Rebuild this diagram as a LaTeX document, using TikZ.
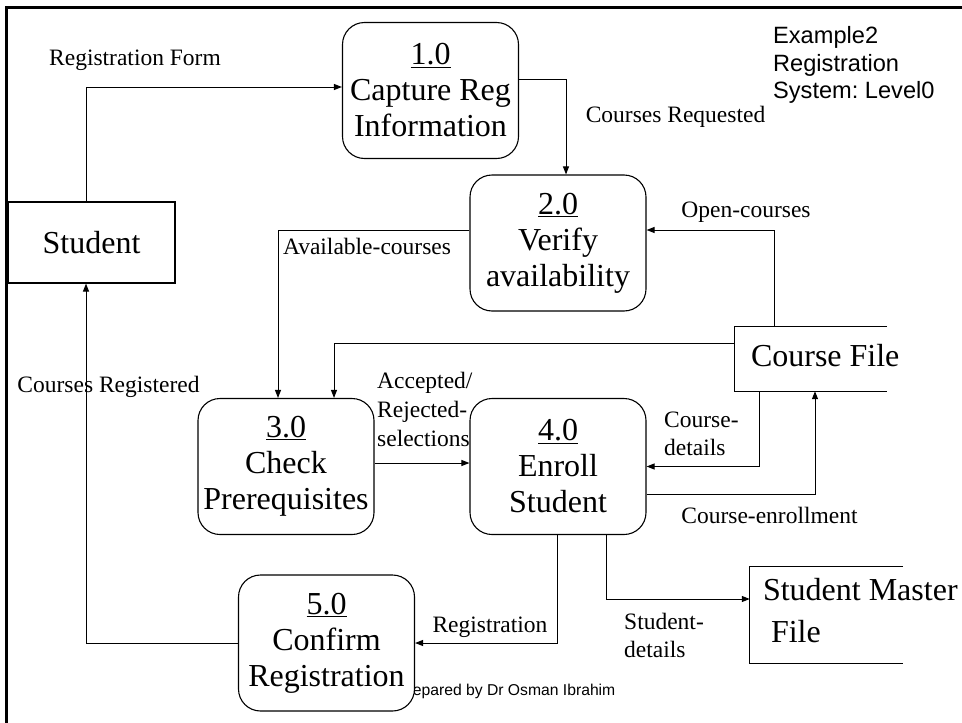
\documentclass[tikz,border=0pt]{standalone}
\usepackage{fontspec}
\setmainfont{Liberation Serif}
\setsansfont{Liberation Sans}
\usetikzlibrary{arrows.meta}
\frenchspacing

\tikzset{
  proc/.style={draw, rounded corners=22pt, fill=white, line width=1.1pt,
    minimum width=176pt, minimum height=136pt, inner sep=0pt, align=center,
    font=\fontsize{32}{36}\selectfont},
  entity/.style={draw, fill=white, line width=1.1pt, inner sep=0pt,
    font=\fontsize{32}{36}\selectfont},
  store/.style={inner sep=0pt},
  storeline/.style={line width=1.1pt},
  storetext/.style={inner sep=0pt, anchor=west, align=left,
    font=\fontsize{32}{42}\selectfont},
  flow/.style={inner sep=0pt, font=\fontsize{23.5}{28}\selectfont},
  flowl/.style={flow, align=left, anchor=west},
  arr/.style={-{Triangle[length=8pt,width=6pt]}, line width=1pt},
  note/.style={inner sep=0pt, font=\sffamily\fontsize{23.6}{27.5}\selectfont}
}

\begin{document}
\begin{tikzpicture}[x=1pt,y=-1pt]
\useasboundingbox (0,0) rectangle (962,723);

% slide frame (only top and left edges fall inside the page)
\draw[line width=3pt] (6.5,723) -- (6.5,7.5) -- (962,7.5);

% title
\node[note, anchor=west, align=left] (title) at (773,65)
  {Example2\\Registration\\System: Level0};

% footer text, partly covered by process 5.0
\node[inner sep=0pt, anchor=west, font=\sffamily\fontsize{15.7}{18}\selectfont]
  (footer) at (397,691) {Prepared by Dr Osman Ibrahim};

% external entity
\node[entity, minimum width=167pt, minimum height=81pt] (student) at (91.5,242.5) {Student};

% processes
\node[proc] (p1) at (430.5,90.5) {\underline{1.0}\\Capture Reg\\Information};
\node[proc] (p2) at (558,243) {\underline{2.0}\\Verify\\availability};
\node[proc] (p3) at (286,466.5) {\underline{3.0}\\Check\\Prerequisites};
\node[proc] (p4) at (558,466.5) {\underline{4.0}\\Enroll\\Student};
\node[proc] (p5) at (326.5,643) {\underline{5.0}\\Confirm\\Registration};

% data stores (open on the right)
\node[store, minimum width=152pt, minimum height=64pt] (cf) at (811,359) {};
\draw[storeline] (cf.north east) -- (cf.north west) -- (cf.south west) -- (cf.south east);
\node[storetext] (cftext) at ([xshift=16pt,yshift=3pt]cf.west) {Course File};

\node[store, minimum width=153pt, minimum height=96pt] (smf) at (826.5,615) {};
\draw[storeline] (smf.north east) -- (smf.north west) -- (smf.south west) -- (smf.south east);
\node[storetext] (smftext) at ([xshift=13pt,yshift=4pt]smf.west) {Student Master\\\hspace*{8pt}File};

% data flows
\draw[arr] ([xshift=-5.5pt]student.north) |- ([yshift=3.5pt]p1.west);
\node[flow] (lregform) at (135,60) {Registration Form};

\draw[arr] ([yshift=11.5pt]p1.east) -| ([xshift=8pt]p2.north);
\node[flow] (lcreq) at (675.5,117) {Courses Requested};

\draw[arr] ([xshift=-37pt]cf.north) |- ([yshift=13pt]p2.east);
\node[flow] (lopen) at (746,212) {Open-courses};

\draw[arr] ([yshift=13pt]p2.west) -| ([xshift=-8pt]p3.north);
\node[flow] (lavail) at (367,246) {Available-courses};

\draw[arr] ([yshift=16pt]cf.west) -| ([xshift=48pt]p3.north);

\draw[arr] ([yshift=3.5pt]p3.east) -- ([yshift=3.5pt]p4.west);
\node[flowl, font=\fontsize{23.5}{29}\selectfont] (lacc) at (377,409) {Accepted/\\Rejected-\\selections};

\draw[arr] ([xshift=-52pt]cf.south) |- (p4.east);
\node[flowl] (ldet) at (664,434) {Course-\\details};

\draw[arr] ([yshift=-27.5pt]p4.east) -| ([xshift=4pt]cf.south);
\node[flow] (lenrol) at (769.5,515) {Course-enrollment};

\draw[arr] ([xshift=-1pt]p4.south) |- (p5.east);
\node[flow] (lreg) at (490,627) {Registration};

\draw[arr] ([xshift=48pt]p4.south) |- ([yshift=16pt]smf.west);
\node[flowl] (lsdet) at (624,635) {Student-\\details};

\draw[arr] (p5.west) -| ([xshift=-5.5pt]student.south);
\node[flow] (lcreg) at (108.5,387) {Courses Registered};
\end{tikzpicture}
\end{document}
